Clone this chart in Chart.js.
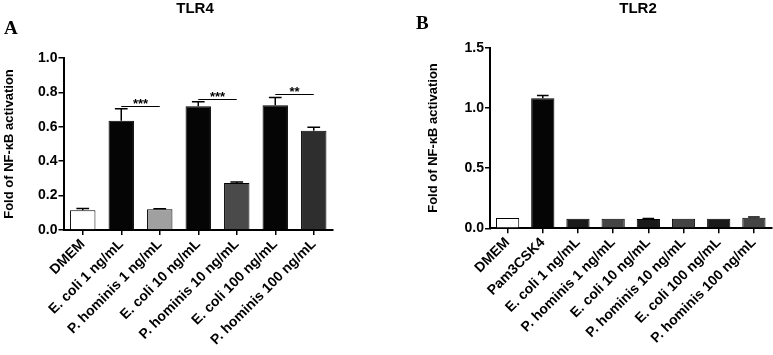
<!DOCTYPE html>
<html>
<head>
<meta charset="utf-8">
<script src="https://cdn.jsdelivr.net/npm/chart.js@4/dist/chart.umd.min.js"></script>
<style>
  html, body { margin: 0; padding: 0; background: #fff; }
  .panel { position: absolute; top: 0; height: 355px; }
  #boxA { left: 0; width: 390px; }
  #boxB { left: 390px; width: 383px; }
</style>
</head>
<body>
<div class="panel" id="boxA"><canvas id="chartA"></canvas></div>
<div class="panel" id="boxB"><canvas id="chartB"></canvas></div>
<script>
// Dados
const tlr4Labels = ['DMEM', 'E. coli 1 ng/mL', 'P. hominis 1 ng/mL', 'E. coli 10 ng/mL',
  'P. hominis 10 ng/mL', 'E. coli 100 ng/mL', 'P. hominis 100 ng/mL'];
const tlr4Values = [0.115, 0.635, 0.12, 0.72, 0.273, 0.725, 0.577];
const tlr4Errors = [0.01, 0.07, 0.003, 0.025, 0.006, 0.045, 0.02];
const tlr4Colors = ['#ffffff', '#050505', '#a0a0a0', '#050505', '#4a4a4a', '#050505', '#2e2e2e'];
const tlr4YTicks = [0, 0.2, 0.4, 0.6, 0.8, 1.0];

// significância: barra de -> barra até, nível (valor do eixo y), rótulo
const sigFrom = [1, 3, 5];
const sigTo = [2, 4, 6];
const sigLevel = [0.72, 0.763, 0.792];
const sigText = ['***', '***', '**'];

const tlr2Labels = ['DMEM', 'Pam3CSK4', 'E. coli 1 ng/mL', 'P. hominis 1 ng/mL', 'E. coli 10 ng/mL',
  'P. hominis 10 ng/mL', 'E. coli 100 ng/mL', 'P. hominis 100 ng/mL'];
const tlr2Values = [0.085, 1.08, 0.08, 0.08, 0.078, 0.08, 0.08, 0.088];
const tlr2Errors = [0, 0.022, 0, 0, 0.003, 0, 0, 0.005];
const tlr2Colors = ['#ffffff', '#050505', '#1a1a1a', '#444444', '#1a1a1a', '#444444', '#1a1a1a', '#444444'];
const tlr2YTicks = [0, 0.5, 1.0, 1.5];

const FONT = "'Liberation Sans', Arial, sans-serif";
Chart.defaults.color = '#000';
Chart.defaults.font.family = FONT;

// Barras de erro (só para cima, estilo GraphPad)
const errorBars = {
  id: 'errorBars',
  afterDatasetsDraw(chart, args, opts) {
    const ctx = chart.ctx;
    const meta = chart.getDatasetMeta(0);
    const y = chart.scales.y;
    ctx.save();
    ctx.strokeStyle = '#000';
    ctx.lineWidth = 1.5;
    meta.data.forEach((bar, i) => {
      const e = opts.errors[i];
      if (!e) return;
      const v = chart.data.datasets[0].data[i];
      const y0 = y.getPixelForValue(v);
      const y1 = y.getPixelForValue(v + e);
      const half = bar.width * 0.25;
      ctx.beginPath();
      ctx.moveTo(bar.x, y0);
      ctx.lineTo(bar.x, y1);
      ctx.moveTo(bar.x - half, y1);
      ctx.lineTo(bar.x + half, y1);
      ctx.stroke();
    });
    ctx.restore();
  }
};

// Linhas de significância com asteriscos
const sigMarks = {
  id: 'sigMarks',
  afterDatasetsDraw(chart, args, opts) {
    if (!opts.from) return;
    const ctx = chart.ctx;
    const meta = chart.getDatasetMeta(0);
    const y = chart.scales.y;
    ctx.save();
    ctx.strokeStyle = '#000';
    ctx.fillStyle = '#000';
    ctx.lineWidth = 1.2;
    ctx.font = 'bold 13px ' + FONT;
    ctx.textAlign = 'center';
    ctx.textBaseline = 'bottom';
    opts.from.forEach((a, k) => {
      const xa = meta.data[a].x, xb = meta.data[opts.to[k]].x;
      const yy = Math.round(y.getPixelForValue(opts.level[k])) + 0.5;
      ctx.beginPath();
      ctx.moveTo(xa, yy);
      ctx.lineTo(xb, yy);
      ctx.stroke();
      ctx.fillText(opts.text[k], (xa + xb) / 2, yy + 4);
    });
    ctx.restore();
  }
};

// Título do painel e letra
const panelText = {
  id: 'panelText',
  afterDraw(chart, args, opts) {
    const ctx = chart.ctx;
    ctx.save();
    ctx.fillStyle = '#000';
    ctx.textBaseline = 'middle';
    ctx.textAlign = 'center';
    ctx.font = 'bold 15px ' + FONT;
    ctx.fillText(opts.title, opts.titleX, 9);
    ctx.textAlign = 'left';
    ctx.font = "bold 19px 'Liberation Serif', 'Times New Roman', serif";
    ctx.fillText(opts.letter, opts.letterX, opts.letterY);
    ctx.restore();
  }
};

function makeChart(id, cfg) {
  const box = document.getElementById(id).parentNode;
  const canvas = document.getElementById(id);
  canvas.width = box.clientWidth;
  canvas.height = 355;
  canvas.style.width = box.clientWidth + 'px';
  canvas.style.height = '355px';
  return new Chart(canvas, {
    type: 'bar',
    data: {
      labels: cfg.labels,
      datasets: [{
        data: cfg.values,
        backgroundColor: cfg.colors,
        borderColor: '#000',
        borderWidth: 1,
        barPercentage: 0.66,
        categoryPercentage: 1
      }]
    },
    options: {
      responsive: false,
      animation: false,
      layout: { padding: { top: cfg.top, right: cfg.right, left: cfg.left, bottom: 0 } },
      plugins: {
        legend: { display: false },
        tooltip: { enabled: false },
        errorBars: { errors: cfg.errors },
        sigMarks: cfg.sig || {},
        panelText: cfg.text
      },
      scales: {
        x: {
          grid: { offset: false, drawOnChartArea: false, drawTicks: true, tickLength: 5, color: '#000', lineWidth: 1.5 },
          border: { display: true, color: '#000', width: 2 },
          ticks: {
            autoSkip: false, maxRotation: 45, minRotation: 45, padding: 1,
            font: { size: 14, weight: 'bold' }, color: '#000'
          },
          afterFit(s) { s.height = cfg.xHeight; }
        },
        y: {
          min: 0, max: cfg.max,
          afterBuildTicks(s) { s.ticks = cfg.yTicks.map(v => ({ value: v })); },
          grid: { drawOnChartArea: false, drawTicks: true, tickLength: 5, color: '#000', lineWidth: 1.5 },
          border: { display: true, color: '#000', width: 2 },
          ticks: {
            padding: 1,
            font: { size: 14, weight: 'bold' }, color: '#000',
            callback: v => Number(v).toFixed(1)
          },
          title: {
            display: true, text: 'Fold of NF-\u03baB activation',
            font: { size: 13, weight: 'bold' }, color: '#000', padding: { top: 2, bottom: 0 }
          },
          afterFit(s) { s.width = cfg.yWidth; }
        }
      }
    },
    plugins: [errorBars, sigMarks, panelText]
  });
}

makeChart('chartA', {
  labels: tlr4Labels, values: tlr4Values, errors: tlr4Errors, colors: tlr4Colors,
  yTicks: tlr4YTicks, max: 1.0,
  top: 58, right: 57, left: 0, xHeight: 125, yWidth: 63.5,
  sig: { from: sigFrom, to: sigTo, level: sigLevel, text: sigText },
  text: { title: 'TLR4', titleX: 195, letter: 'A', letterX: 4, letterY: 29 }
});

makeChart('chartB', {
  labels: tlr2Labels, values: tlr2Values, errors: tlr2Errors, colors: tlr2Colors,
  yTicks: tlr2YTicks, max: 1.5,
  top: 47.7, right: 1.5, left: 34, xHeight: 126.7, yWidth: 66,
  text: { title: 'TLR2', titleX: 248, letter: 'B', letterX: 26, letterY: 24 }
});
</script>
</body>
</html>
